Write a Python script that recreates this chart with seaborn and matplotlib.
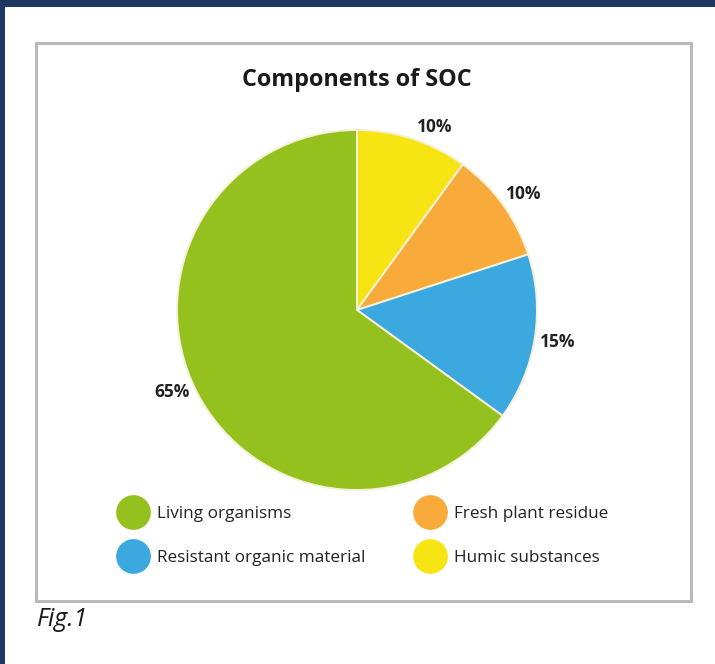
import matplotlib
matplotlib.use("Agg")
import matplotlib.pyplot as plt
from matplotlib.lines import Line2D
from matplotlib.patches import Rectangle
import seaborn as sns

# Soil organic carbon components (drawn clockwise from 12 o'clock)
components = ["Humic substances", "Fresh plant residue",
              "Resistant organic material", "Living organisms"]
shares = [10, 10, 15, 65]
colors = ["#f7e513", "#f8aa3a", "#3ba8df", "#95c11f"]

legend_order = ["Living organisms", "Resistant organic material",
                "Fresh plant residue", "Humic substances"]

title = "Components of SOC"
caption = "Fig.1"

sns.set_theme(style="white")
plt.rcParams["font.family"] = ["Open Sans", "DejaVu Sans"]
palette = dict(zip(components, sns.color_palette(colors)))

W, H = 715, 664
fig = plt.figure(figsize=(W / 100, H / 100), dpi=100)
fig.patch.set_facecolor("white")


def fx(px):
    return px / W


def fy(py):
    return 1 - py / H


# page frame: navy strips along the top and left edges
fig.add_artist(Rectangle((0, fy(7)), 1, 7 / H, transform=fig.transFigure,
                         facecolor="#1f3763", edgecolor="none", zorder=0))
fig.add_artist(Rectangle((0, 0), 5 / W, 1, transform=fig.transFigure,
                         facecolor="#1f3763", edgecolor="none", zorder=0))

# grey box around the chart
fig.add_artist(Rectangle((fx(36), fy(601)), (691 - 36) / W, (601 - 43) / H,
                         transform=fig.transFigure, facecolor="none",
                         edgecolor="#b9b9b9", linewidth=2.2, zorder=1))

# pie axes: centre (357, 310), radius 180 px
cx, cy, r = 357, 310, 180
ax = fig.add_axes([fx(cx - r), fy(cy + r), 2 * r / W, 2 * r / H])
wedges, _, autotexts = ax.pie(
    shares,
    colors=[palette[c] for c in components],
    startangle=90,
    counterclock=False,
    autopct=lambda p: f"{p:.0f}%",
    pctdistance=1.13,
    wedgeprops=dict(edgecolor="#f4f1d8", linewidth=1.4),
    textprops=dict(fontsize=12.5, fontweight="bold", color="#222222"),
)
# small per-label nudges (in data units of the unit-radius pie)
nudges = [(0.085, -0.06), (0.01, -0.02), (0.0, 0.0), (-0.02, 0.055)]
for t, (dx, dy) in zip(autotexts, nudges):
    x, y = t.get_position()
    t.set_position((x + dx, y + dy))
ax.set_xlim(-1, 1)
ax.set_ylim(-1, 1)
ax.set_aspect("equal")
ax.axis("off")

fig.text(fx(357), fy(80), title, ha="center", va="center",
         fontsize=16.8, fontweight="bold", color="#1a1a1a")

handles = [Line2D([0], [0], marker="o", linestyle="none", markersize=25,
                  markerfacecolor=palette[c], markeredgecolor="none")
           for c in legend_order]
fig.legend(handles, legend_order, loc="upper left",
           bbox_to_anchor=(fx(118), fy(506)), bbox_transform=fig.transFigure,
           ncol=2, frameon=False, borderpad=0, fontsize=12.3,
           handlelength=1.75, handletextpad=0.55, columnspacing=2.9,
           labelspacing=1.65, borderaxespad=0, labelcolor="#222222")

fig.text(fx(37), fy(620), caption, ha="left", va="center",
         fontsize=18, fontstyle="italic", color="#1a1a1a")

fig.savefig("out.png", dpi=100, facecolor="white")
